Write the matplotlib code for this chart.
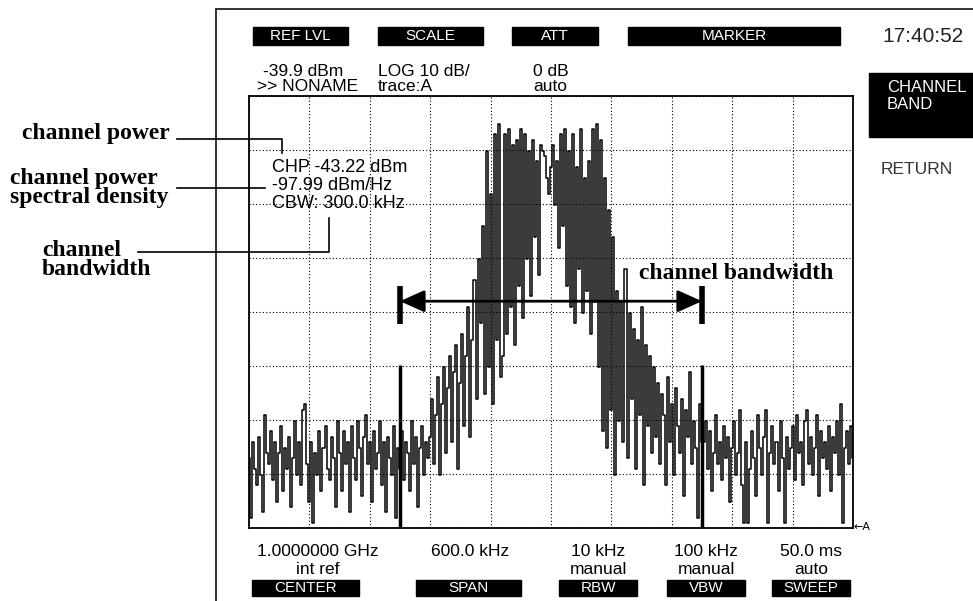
import matplotlib.pyplot as plt
import numpy as np
from matplotlib.patches import Rectangle, FancyArrowPatch

plt.rcParams['font.family'] = ['Liberation Sans', 'DejaVu Sans']

# trace (dBm), one point every 2 kHz from -300 to +300 kHz
trace_dbm = [
    # noise floor, left
    -107, -118, -104, -109, -112, -103, -110, -117, -99, -106,
    -108, -102, -111, -104, -115, -106, -101, -113, -105, -109,
    -103, -116, -107, -100, -110, -104, -112, -98, -97, -108,
    -115, -104, -119, -106, -110, -102, -113, -105, -101, -109,
    -111, -103, -107, -116, -100, -106, -113, -102, -108, -104,
    -117, -101, -107, -111, -100, -105, -114, -103, -99, -108,
    -104, -115, -102, -109, -106, -100, -112, -104, -117, -103,
    -107, -110, -101, -118, -105, -109, -102, -111, -104, -106,
    -113, -100, -108, -103, -116, -105, -101, -110, -104, -107,
    # rising edge
    -103, -96, -108, -99, -92, -110, -97, -90, -106, -94,
    -88, -104, -91, -86, -109, -93, -84, -101, -88, -79,
    -103, -85, -74, -96, -70,
    -82, -64, -95, -50, -90, -58, -97, -47, -85, -45, -92,
    # channel top
    -88, -47, -84, -46, -79, -49, -86, -48, -75, -46,
    -81, -47, -70, -50, -77, -48, -66, -52, -73, -49,
    -50, -51, -55, -58, -53, -49, -60, -52, -68, -47,
    -64, -46, -75, -50, -79, -47, -82, -53, -72, -46,
    -80, -55, -76, -52, -84, -46, -78, -45, -90, -48,
    # falling edge
    -102, -55, -105, -61, -98, -66, -110, -76, -100, -78,
    -104, -72, -107, -80, -96, -83, -109, -85, -99, -79,
    -112, -86, -101, -88, -106,
    -90, -103, -93, -108, -95, -99, -112, -92, -104, -97,
    -110, -94, -101, -106, -96, -114, -98, -103, -91, -108,
    -100, -105, -118, -97, -104,
    # noise floor, right
    -104, -100, -109, -102, -113, -106, -99, -108, -104, -111,
    -101, -107, -103, -115, -105, -100, -110, -106, -98, -112,
    -119, -104, -119, -109, -102, -107, -114, -99, -105, -110,
    -103, -98, -119, -106, -101, -108, -104, -113, -100, -107,
    -119, -103, -109, -105, -101, -111, -99, -106, -104, -112,
    -100, -98, -108, -103, -110, -105, -99, -114, -102, -107,
    -104, -109, -101, -113, -103, -106, -100, -110, -97, -119,
    -105, -102, -108, -101, -107,
]

ref_level = -39.9
db_per_div = 10
n_div_y = 8
span_khz = 600
cbw_khz = 300.0
bracket_dbm = -77.9
marker_top_dbm = -89.7

header_labels = ['REF LVL', 'SCALE', 'ATT', 'MARKER']
header_values = [['-39.9 dBm', '>> NONAME'], ['LOG 10 dB/', 'trace:A'], ['0 dB', 'auto'], []]
footer_labels = ['CENTER', 'SPAN', 'RBW', 'VBW', 'SWEEP']
footer_values = [['1.0000000 GHz', 'int ref'], ['600.0 kHz', ''], ['10 kHz', 'manual'],
                 ['100 kHz', 'manual'], ['50.0 ms', 'auto']]
readout = ['CHP -43.22 dBm', '-97.99 dBm/Hz', 'CBW: 300.0 kHz']
clock = '17:40:52'
softkeys = ['CHANNEL\nBAND', 'RETURN']

W, H = 973, 601
fig = plt.figure(figsize=(W / 100, H / 100), dpi=100)
bg = fig.add_axes([0, 0, 1, 1])
bg.set_xlim(0, W)
bg.set_ylim(H, 0)
bg.axis('off')


def box(x0, y0, x1, y1):
    return [x0 / W, 1 - y1 / H, (x1 - x0) / W, (y1 - y0) / H]


ax = fig.add_axes(box(249, 96, 853, 528))
ax.set_facecolor('none')

# screen frame
bg.plot([216, 216], [H, 9], color='#333333', lw=1.4)
bg.plot([216, W], [9, 9], color='#333333', lw=1.4)

# header
head_x = [(253, 348), (378, 483), (512, 598), (628, 840)]
head_val_x = [(263, 257), (378, 378), (533, 533)]
for (x0, x1), lab in zip(head_x, header_labels):
    bg.add_patch(Rectangle((x0, 27), x1 - x0, 18, color='black'))
    bg.text((x0 + x1) / 2, 36.5, lab, color='white', fontsize=11, ha='center', va='center')
for (xa, xb), vals in zip(head_val_x, header_values):
    bg.text(xa, 71, vals[0], fontsize=12.5, ha='left', va='center')
    bg.text(xb, 86.5, vals[1], fontsize=12.5, ha='left', va='center')

# footer
foot_x = [(252, 359), (416, 521), (559, 637), (667, 745), (772, 850)]
foot_txt_x = [318, 470, 598, 706, 811]
for (x0, x1), tx, lab, vals in zip(foot_x, foot_txt_x, footer_labels, footer_values):
    bg.add_patch(Rectangle((x0, 580), x1 - x0, 16, color='black'))
    bg.text((x0 + x1) / 2, 588.5, lab, color='white', fontsize=11, ha='center', va='center')
    bg.text(tx, 552, vals[0], fontsize=12.5, ha='center', va='center')
    bg.text(tx, 569.5, vals[1], fontsize=12.5, ha='center', va='center')

# right side
bg.text(882, 36, clock, fontsize=15, color='#222222', ha='left', va='center')
bg.add_patch(Rectangle((869, 73), W - 869, 64, color='black'))
bg.text(887, 96, softkeys[0], fontsize=12, color='white', ha='left', va='center',
        linespacing=1.1)
bg.text(881, 170, softkeys[1], fontsize=12.5, color='#333333', ha='left', va='center')
bg.text(854, 527, '\u2190A', fontsize=8, ha='left', va='center', family=['DejaVu Sans'])

# callout labels on the left
serif = dict(family=['Liberation Serif'], fontweight='bold', fontsize=17, va='baseline')
bg.text(22, 139, 'channel power', **serif)
bg.text(10, 184, 'channel power', **serif)
bg.text(10, 203, 'spectral density', **serif)
bg.text(42, 256, 'channel', **serif)
bg.text(42, 275, 'bandwidth', **serif)
bg.plot([177, 282, 282], [139, 139, 153], color='black', lw=1.2)
bg.plot([177, 265], [188, 188], color='black', lw=1.2)
bg.plot([138, 329, 329], [252, 252, 218], color='black', lw=1.2)

# readout inside graticule
for i, line in enumerate(readout):
    bg.text(272, 168 + 17.5 * i, line, fontsize=13, ha='left', va='center')

# graticule
bottom = ref_level - n_div_y * db_per_div
freq = np.linspace(-span_khz / 2, span_khz / 2, len(trace_dbm))
ax.set_xlim(-span_khz / 2, span_khz / 2)
ax.set_ylim(bottom, ref_level)
ax.set_xticks(np.linspace(-span_khz / 2, span_khz / 2, 11))
ax.set_yticks(np.linspace(bottom, ref_level, n_div_y + 1))
ax.grid(True, color='black', linestyle=(0, (1, 2)), lw=0.8)
ax.tick_params(length=0, labelbottom=False, labelleft=False)
for s in ax.spines.values():
    s.set_linewidth(1.3)

ax.plot(freq, trace_dbm, color='black', lw=1.1, drawstyle='steps-mid')

# channel markers
half = cbw_khz / 2
ax.vlines([-half, half], bottom, marker_top_dbm, color='black', lw=2.5)
ax.vlines([-half, half], bracket_dbm - 4.2, bracket_dbm + 2.8, color='black', lw=4)
ax.add_patch(FancyArrowPatch((-half, bracket_dbm), (half, bracket_dbm),
                             arrowstyle='<|-|>,head_length=1.0,head_width=0.45',
                             mutation_scale=15, color='black', lw=2,
                             shrinkA=0, shrinkB=0))
ax.text(87, bracket_dbm + 4.2, 'channel bandwidth', family=['Liberation Serif'],
        fontweight='bold', fontsize=17, ha='left', va='baseline')

fig.savefig('out.png', dpi=100)
